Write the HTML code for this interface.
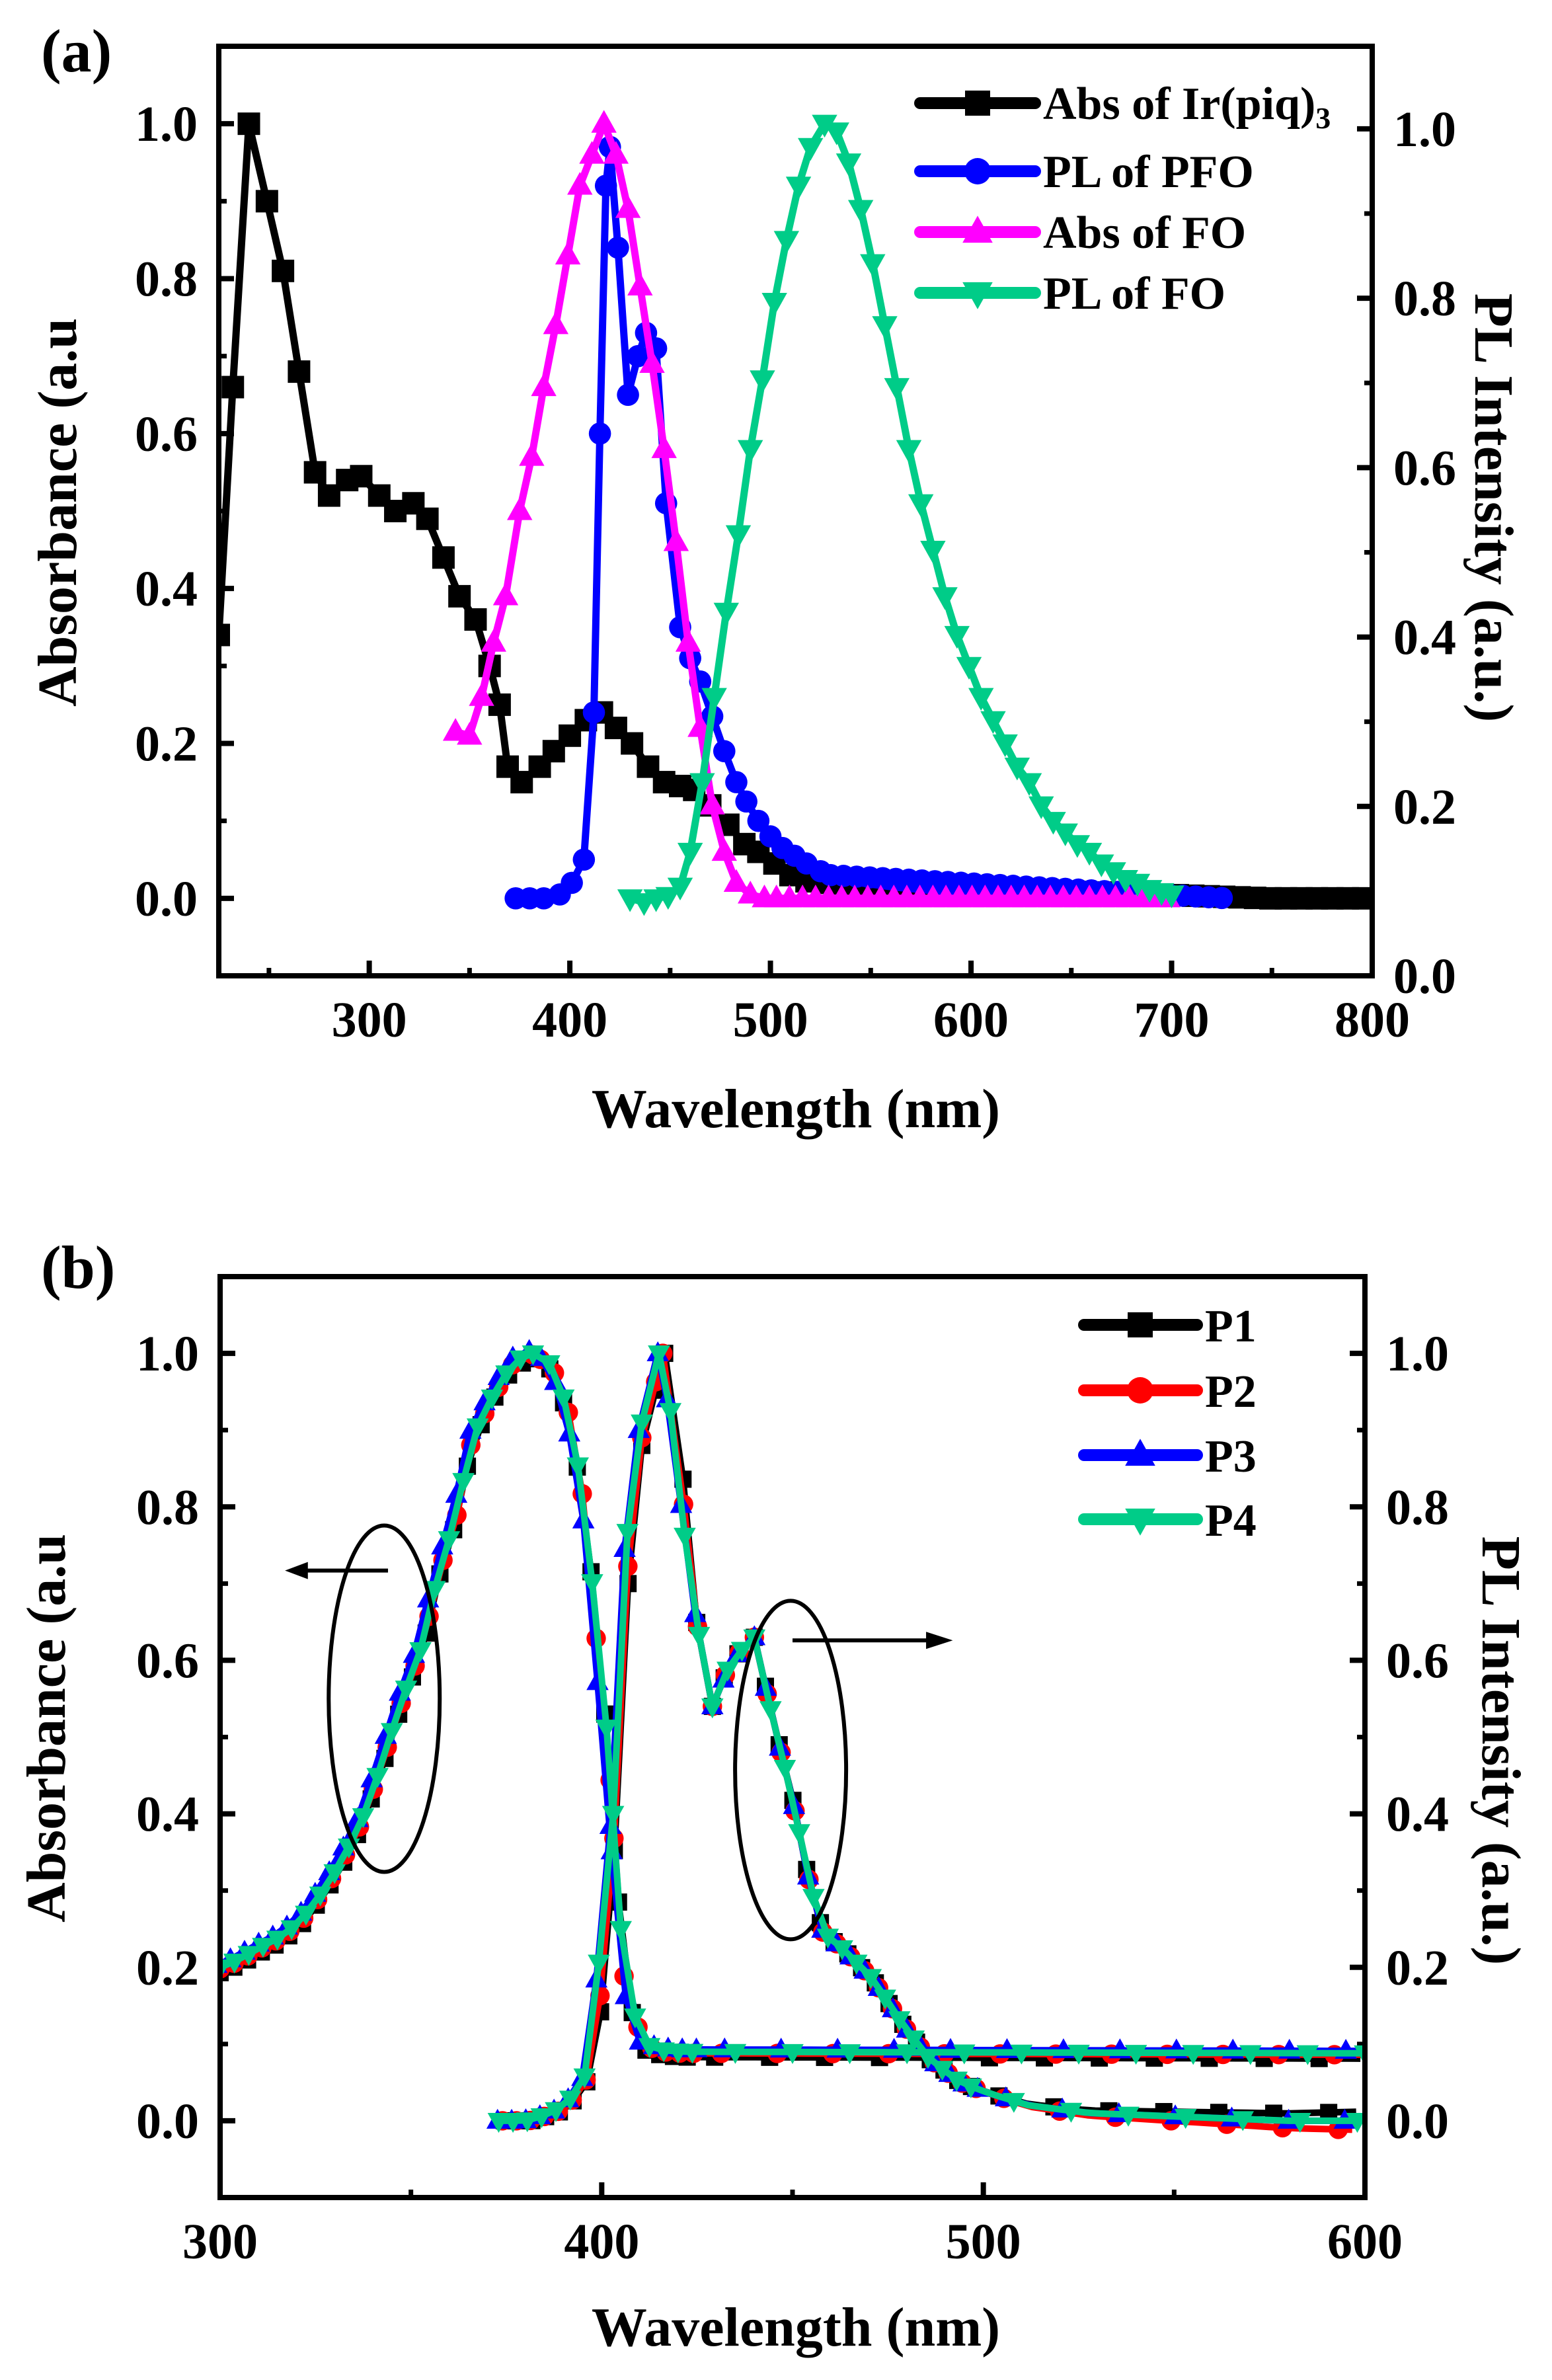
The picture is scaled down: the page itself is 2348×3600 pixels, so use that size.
<!DOCTYPE html>
<html><head><meta charset="utf-8">
<style>
html,body{margin:0;padding:0;background:#fff;}
svg{display:block;}
text{font-family:"Liberation Serif",serif;font-weight:bold;fill:#000;}
</style></head>
<body>
<svg id="s" width="2348" height="3600" viewBox="0 0 2348 3600" xmlns="http://www.w3.org/2000/svg"></svg>
<script>
const NS="http://www.w3.org/2000/svg";
const S=document.getElementById('s');
function el(t,a,txt,parent){const e=document.createElementNS(NS,t);for(const k in a)e.setAttribute(k,a[k]);if(txt!==undefined)e.textContent=txt;(parent||S).appendChild(e);return e;}
function interp(pts,step){const o=[];const x0=pts[0][0],x1=pts[pts.length-1][0];
 let xs=[];for(let x=x0;x<=x1+1e-6;x+=step)xs.push(x);
 // include local extrema key points
 for(let i=1;i<pts.length-1;i++){const a=pts[i-1][1],b=pts[i][1],c=pts[i+1][1];if((b>a&&b>=c)||(b<a&&b<=c)){
   let k=0,bd=1e9;xs.forEach((x,j)=>{const d=Math.abs(x-pts[i][0]);if(d<bd){bd=d;k=j;}});xs[k]=pts[i][0];}}
 xs.sort((a,b)=>a-b);
 xs.forEach(x=>{let i=0;while(i<pts.length-2&&pts[i+1][0]<x)i++;
  const a=pts[i],b=pts[i+1];const t=(x-a[0])/(b[0]-a[0]);o.push([x,a[1]+(b[1]-a[1])*Math.max(0,Math.min(1,t))]);});
 return o;}
function marker(type,x,y,r,c,g){
 if(type==='sq')el('rect',{x:x-r,y:y-r,width:2*r,height:2*r,fill:c},undefined,g);
 else if(type==='ci')el('circle',{cx:x,cy:y,r:r*1.05,fill:c},undefined,g);
 else if(type==='up')el('polygon',{points:`${x},${y-r*1.3} ${x-r*1.2},${y+r*0.85} ${x+r*1.2},${y+r*0.85}`,fill:c},undefined,g);
 else el('polygon',{points:`${x},${y+r*1.3} ${x-r*1.2},${y-r*0.85} ${x+r*1.2},${y-r*0.85}`,fill:c},undefined,g);}
function series(ax,pts,c,type,r,lw,mpts){
 const g=el('g',{'clip-path':`url(#${ax.id})`});
 const d=pts.map((p,i)=>(i?'L':'M')+ax.X(p[0]).toFixed(1)+','+ax.Y(p[1]).toFixed(1)).join('');
 el('path',{d:d,fill:'none',stroke:c,'stroke-width':lw,'stroke-linejoin':'round'},undefined,g);
 (mpts||pts).forEach(p=>marker(type,ax.X(p[0]),ax.Y(p[1]),r,c,g));}
function axes(o){
 const X=v=>o.L+(v-o.x0)/(o.x1-o.x0)*(o.R-o.L);
 const Y=v=>o.B-(v-o.y0)/(o.y1-o.y0)*(o.B-o.T);
 const cp=el('clipPath',{id:o.id});el('rect',{x:o.L,y:o.T,width:o.R-o.L,height:o.B-o.T},undefined,cp);
 const ax={X,Y,id:o.id};
 o.xt.forEach(v=>{const x=X(v);el('line',{x1:x,y1:o.B,x2:x,y2:o.B-23,stroke:'#000','stroke-width':8});
   el('text',{x:x,y:o.B+92,'text-anchor':'middle','font-size':76},String(v));});
 o.xm.forEach(v=>{const x=X(v);el('line',{x1:x,y1:o.B,x2:x,y2:o.B-12,stroke:'#000','stroke-width':7});});
 for(let v=0;v<=1.001;v+=0.2){const y=Y(v);el('line',{x1:o.L,y1:y,x2:o.L+23,y2:y,stroke:'#000','stroke-width':8});
   el('text',{x:o.L-32,y:y+26,'text-anchor':'end','font-size':76},v.toFixed(1));}
 for(let v=-0.1;v<=1.1;v+=0.2){const y=Y(v);el('line',{x1:o.L,y1:y,x2:o.L+12,y2:y,stroke:'#000','stroke-width':7});}
 const YR=v=>o.B-(v-o.r0)/(o.r1-o.r0)*(o.B-o.T);
 for(let v=0;v<=1.001;v+=0.2){const y=YR(v);el('line',{x1:o.R,y1:y,x2:o.R-23,y2:y,stroke:'#000','stroke-width':8});
   el('text',{x:o.R+32,y:y+26,'text-anchor':'start','font-size':76},v.toFixed(1));}
 for(let v=0.1;v<=o.r1;v+=0.2){const y=YR(v);el('line',{x1:o.R,y1:y,x2:o.R-12,y2:y,stroke:'#000','stroke-width':7});}
 return ax;}
function frame(o){el('rect',{x:o.L,y:o.T,width:o.R-o.L,height:o.B-o.T,fill:'none',stroke:'#000','stroke-width':8});}

/* ---------- Panel (a) ---------- */
const A={id:'ca',L:331,R:2076,T:70,B:1476,x0:225,x1:800,y0:-0.1,y1:1.1,r0:0,r1:1.0975,
 xt:[300,400,500,600,700,800],xm:[250,350,450,550,650,750]};
const ax=axes(A);
const blackA=[[225,0.34],[232,0.66],[240,1.0],[249,0.9],[257,0.81],[265,0.68],[273,0.55],[280,0.52],[289,0.54],[296,0.545],[305,0.52],[313,0.5],[322,0.51],[329,0.49],[337,0.44],[345,0.39],[353,0.36],[360,0.3],[365,0.25],[369,0.17],[376,0.15],[385,0.17],[392,0.19],[400,0.21],[408,0.23],[416,0.24],[423,0.22],[431,0.2],[439,0.17],[447,0.15],[455,0.145],[462,0.14],[470,0.12],[479,0.095],[487,0.07],[494,0.06],[502,0.045],[510,0.03],[518,0.022]];
for(let x=526;x<=800;x+=7.7){blackA.push([x,Math.max(0,0.02-(x-526)*0.00009)]);}
const blueA=[[373,0],[380,0],[387,0],[395,0.005],[401,0.02],[407,0.05],[412,0.24],[415,0.6],[418,0.92],[420,0.97],[424,0.84],[429,0.65],[434,0.7],[438,0.73],[443,0.71],[448,0.51],[455,0.35],[460,0.31],[465,0.28],[471,0.235],[477,0.19],[483,0.15],[488,0.125],[494,0.1],[500,0.08],[506,0.065],[512,0.055],[518,0.045],[525,0.035],[535,0.025],[545,0.02],[560,0.015],[580,0.01],[600,0.005],[650,0],[728,0]];
const blueM=blueA.filter(p=>p[0]<=525).concat(interp([[530,0.03],[728,0]],6.5));
const magA=[[343,0.215],[350,0.21],[356,0.26],[362,0.33],[368,0.39],[375,0.5],[381,0.57],[387,0.66],[393,0.74],[399,0.83],[405,0.92],[411,0.96],[417,1.0],[423,0.96],[429,0.89],[435,0.79],[441,0.69],[447,0.58],[453,0.46],[459,0.33],[465,0.22],[471,0.12],[477,0.06],[483,0.02],[490,0.005],[497,0]];
for(let x=503;x<=700;x+=6.5)magA.push([x,0]);
const greenA=[[430,0],[437,-0.005],[443,0],[449,0.003],[455,0.015],[460,0.06],[466,0.15],[472,0.26],[478,0.37],[484,0.47],[490,0.58],[496,0.67],[502,0.77],[508,0.85],[514,0.92],[520,0.97],[527,1.0],[533,0.99],[539,0.95],[545,0.89],[551,0.82],[557,0.74],[563,0.66],[569,0.58],[575,0.51],[581,0.45],[587,0.39],[593,0.34],[599,0.3],[605,0.26],[611,0.23],[617,0.2],[623,0.17],[629,0.15],[635,0.12],[641,0.1],[647,0.085],[653,0.07],[659,0.06],[665,0.045],[671,0.035],[677,0.025],[683,0.02],[689,0.012],[695,0.008],[700,0.005]];
series(ax,blackA,'#000','sq',17,11);
series(ax,blueA,'#0000ff','ci',16,11,blueM);
series(ax,magA,'#ff00ff','up',16,11);
series(ax,greenA,'#00cc88','dn',16,11);
frame(A);
[['sq','#000',156],['ci','#0000ff',259],['up','#ff00ff',351],['dn','#00cc88',443]].forEach(l=>{
 el('line',{x1:1392,y1:l[2],x2:1566,y2:l[2],stroke:l[1],'stroke-width':18,'stroke-linecap':'round'});
 marker(l[0],1479,l[2],19,l[1]);});
const t1=el('text',{x:1578,y:180,'font-size':70},'Abs of Ir(piq)');el('tspan',{'font-size':46,dy:14},'3',t1);
el('text',{x:1578,y:283,'font-size':70},'PL of PFO');
el('text',{x:1578,y:375,'font-size':70},'Abs of FO');
el('text',{x:1578,y:467,'font-size':70},'PL of FO');
el('text',{x:62,y:108,'font-size':92},'(a)');
el('text',{x:1204,y:1705,'text-anchor':'middle','font-size':84},'Wavelength (nm)');
el('text',{transform:'translate(115,775) rotate(-90)','text-anchor':'middle','font-size':84},'Absorbance (a.u');
el('text',{transform:'translate(2232,768) rotate(90)','text-anchor':'middle','font-size':84},'PL Intensity (a.u.)');

/* ---------- Panel (b) ---------- */
const B={id:'cb',L:333,R:2065,T:1931,B:3324,x0:300,x1:600,y0:-0.1,y1:1.1,r0:-0.1,r1:1.1,
 xt:[300,400,500,600],xm:[350,450,550]};
const bx=axes(B);
const absK=[[300,0.2],[305,0.21],[310,0.225],[316,0.24],[321,0.26],[327,0.3],[332,0.34],[337,0.39],[342,0.46],[347,0.54],[353,0.62],[357,0.71],[362,0.79],[366,0.89],[372,0.95],[377,0.99],[382,1.0],[387,0.985],[391.6,0.92],[396.5,0.77],[399,0.6],[401,0.53],[403,0.39],[406,0.18],[411,0.1],[416,0.092],[421,0.09],[600,0.088]];
const plK=[[373,0],[380,0],[387,0.01],[392,0.03],[397,0.07],[399,0.19],[401,0.32],[403,0.4],[405,0.68],[409,0.88],[412,0.94],[415,1.0],[419,0.9],[423,0.7],[429,0.54],[434,0.6],[440,0.63],[445,0.52],[450,0.42],[454,0.32],[458,0.245],[463,0.225],[471,0.185],[479,0.125],[486,0.08],[494,0.05],[502,0.035],[512,0.02],[528,0.01],[554,0.005],[580,0],[600,0]];
function shift(pts,dx,dy,tail){return pts.map(p=>[p[0]+(p[0]>370&&p[0]<420?dx:0),p[1]+(p[0]>500?tail*(p[0]-500)/100:0)+dy]);}
const cfg=[
 ['#000','sq',13,[1.5,0,0.012],[0,-0.007,0]],
 ['#ff0000','ci',14,[1.0,0,-0.012],[0,-0.002,0]],
 ['#0000ff','up',14,[-0.3,0,0],[-1,0.003,0]],
 ['#00cc88','dn',14,[0,0,0],[0,0,0]]];
cfg.forEach((c,i)=>{
 const pl=interp(shift(plK,c[3][0],c[3][1],c[3][2]),3.6+i*0.05);
 const ab=interp(absK.map(p=>[p[0]+c[4][0],p[1]+c[4][1]]),3.6+i*0.05);
 const mab=ab.filter((p,j)=>p[0]<425||j%4===0);
 const mpl=pl.filter((p,j)=>p[0]<500||j%4===0);
 series(bx,ab,c[0],c[1],c[2],10,mab);
 series(bx,pl,c[0],c[1],c[2],10,mpl);
});
frame(B);
el('ellipse',{cx:bx.X(343),cy:bx.Y(0.55),rx:84,ry:262,fill:'none',stroke:'#000','stroke-width':6});
el('line',{x1:bx.X(344),y1:bx.Y(0.717),x2:bx.X(322),y2:bx.Y(0.717),stroke:'#000','stroke-width':6});
el('polygon',{points:`${bx.X(317)},${bx.Y(0.717)} ${bx.X(323)},${bx.Y(0.717)-13} ${bx.X(323)},${bx.Y(0.717)+13}`,fill:'#000'});
el('ellipse',{cx:bx.X(449.5),cy:bx.Y(0.457),rx:84,ry:256,fill:'none',stroke:'#000','stroke-width':6});
el('line',{x1:bx.X(450),y1:bx.Y(0.626),x2:bx.X(486),y2:bx.Y(0.626),stroke:'#000','stroke-width':6});
el('polygon',{points:`${bx.X(492)},${bx.Y(0.626)} ${bx.X(485)},${bx.Y(0.626)-13} ${bx.X(485)},${bx.Y(0.626)+13}`,fill:'#000'});
[['sq','#000',2004,'P1'],['ci','#ff0000',2103,'P2'],['up','#0000ff',2201,'P3'],['dn','#00cc88',2298,'P4']].forEach(l=>{
 el('line',{x1:1640,y1:l[2],x2:1811,y2:l[2],stroke:l[1],'stroke-width':18,'stroke-linecap':'round'});
 marker(l[0],1725,l[2],19,l[1]);
 el('text',{x:1823,y:l[2]+25,'font-size':70},l[3]);});
el('text',{x:62,y:1948,'font-size':92},'(b)');
el('text',{x:1204,y:3548,'text-anchor':'middle','font-size':84},'Wavelength (nm)');
el('text',{transform:'translate(98,2614) rotate(-90)','text-anchor':'middle','font-size':84},'Absorbance (a.u');
el('text',{transform:'translate(2243,2648) rotate(90)','text-anchor':'middle','font-size':84},'PL Intensity (a.u.)');
</script>
</body></html>
